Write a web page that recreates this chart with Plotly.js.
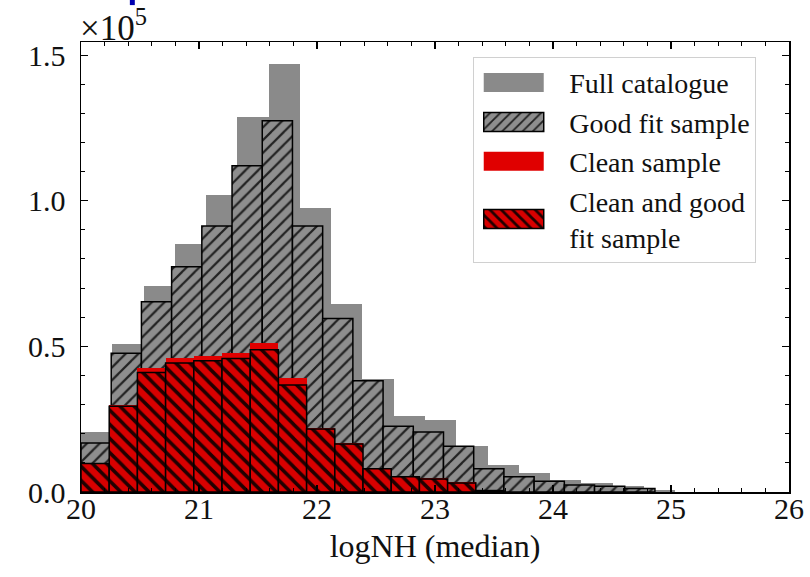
<!DOCTYPE html>
<html><head><meta charset="utf-8">
<script src="https://cdn.plot.ly/plotly-3.0.1.min.js"></script>
<style>html,body{margin:0;padding:0;background:#fff}</style>
</head><body><div id="chart" style="width:810px;height:577px"></div>
<script>
// Histogram data (counts), each series has its own bins starting at logNH = 20
const binStart = 20;
const fullBinWidth = 0.265;
const goodBinWidth = 0.256;
const cleanBinWidth = 0.239;

const fullCatalogue = [20600, 50700, 70600, 85300, 102000, 128800, 146900, 97400, 64700, 38800, 26200, 24800, 15800, 9200, 6500, 4000, 3000, 2200, 700];
const goodFitSample = [16800, 47600, 65300, 77300, 91300, 112000, 127500, 91300, 59600, 38200, 22600, 20600, 15700, 8000, 5200, 3700, 2400, 2000, 1200];
const cleanSample = [10000, 29800, 42700, 46000, 46600, 47800, 51200, 39200, 22000, 16800, 8200, 5400, 4700, 3300, 600];
const cleanGoodSample = [9800, 29400, 41000, 44300, 45100, 45800, 48800, 36700, 21600, 16500, 8000, 5200, 4500, 3100, 500];

const xTickVals = [20, 21, 22, 23, 24, 25, 26];
const yTickVals = [0, 50000, 100000, 150000];
const yTickText = ['0.0', '0.5', '1.0', '1.5'];

function centers(n, w) { return Array.from({length: n}, (_, i) => binStart + (i + 0.5) * w); }

const serif = 'Liberation Serif, Times New Roman, serif';

const traces = [
  {type: 'bar', name: 'Full catalogue', x: centers(fullCatalogue.length, fullBinWidth), y: fullCatalogue,
   width: fullBinWidth, marker: {color: '#8a8a8a', line: {width: 0}}},
  {type: 'bar', name: 'Good fit sample', x: centers(goodFitSample.length, goodBinWidth), y: goodFitSample,
   width: goodBinWidth, marker: {color: '#8e8e8e', line: {color: '#000', width: 1.5},
   pattern: {shape: '/', fgcolor: '#222', bgcolor: '#8e8e8e', size: 9, solidity: 0.25}}},
  {type: 'bar', name: 'Clean sample', x: centers(cleanSample.length, cleanBinWidth), y: cleanSample,
   width: cleanBinWidth, marker: {color: '#e00000', line: {width: 0}}},
  {type: 'bar', name: 'Clean and good<br>fit sample', x: centers(cleanGoodSample.length, cleanBinWidth), y: cleanGoodSample,
   width: cleanBinWidth, marker: {color: '#d80000', line: {color: '#000', width: 1.5},
   pattern: {shape: '\\', fgcolor: '#200000', bgcolor: '#d80000', size: 10, solidity: 0.35}}}
];

const layout = {
  width: 810, height: 577,
  margin: {l: 81, r: 21, t: 42, b: 85, pad: 0},
  paper_bgcolor: '#fff', plot_bgcolor: '#fff',
  barmode: 'overlay', bargap: 0,
  font: {family: serif, color: '#111', size: 30},
  xaxis: {range: [20, 26], tickvals: xTickVals, ticks: 'inside', ticklen: 7, tickwidth: 1.2, tickcolor: '#000',
    showline: true, linecolor: '#000', linewidth: 1.5, mirror: 'allticks', showgrid: false, zeroline: false,
    minor: {dtick: 0.2, tick0: 20, ticks: 'inside', ticklen: 4, tickwidth: 1, tickcolor: '#000', showgrid: false},
    tickfont: {family: serif, size: 30}, ticklabelstandoff: -11,
    title: {text: 'logNH (median)', font: {family: serif, size: 32}, standoff: 11}, automargin: false},
  yaxis: {range: [0, 154500], tickvals: yTickVals, ticktext: yTickText, ticks: 'inside', ticklen: 7, tickwidth: 1.2, tickcolor: '#000',
    showline: true, linecolor: '#000', linewidth: 1.5, mirror: 'allticks', showgrid: false, zeroline: false,
    minor: {dtick: 10000, tick0: 0, ticks: 'inside', ticklen: 4, tickwidth: 1, tickcolor: '#000', showgrid: false},
    tickfont: {family: serif, size: 30}, ticklabelstandoff: 8, automargin: false},
  legend: {x: 0.554, y: 0.967, xanchor: 'left', yanchor: 'top', bgcolor: 'rgba(255,255,255,0.9)',
    bordercolor: '#d0d0d0', borderwidth: 1, font: {family: serif, size: 28, color: '#111'},
    itemwidth: 85, traceorder: 'normal', tracegroupgap: 0, valign: 'middle'},
  annotations: [{xref: 'paper', yref: 'paper', x: 0, y: 1.0, xanchor: 'left', yanchor: 'bottom',
    text: '×10<sup>5</sup>', showarrow: false, font: {family: serif, size: 35, color: '#111'}, xshift: -3, yshift: -8}],
  shapes: [{type: 'rect', xref: 'paper', yref: 'paper', x0: 0.069, x1: 0.076, y0: 1.082, y1: 1.094,
    fillcolor: '#0000b0', line: {width: 0}}],
  showlegend: true
};

function fixLegend(gd) {
  gd.querySelectorAll('.legend .legendpoints path').forEach(p => {
    p.setAttribute('d', 'M22,9.5H-38V-9.5H22Z');
  });
}

Plotly.newPlot('chart', traces, layout, {staticPlot: true, displayModeBar: false}).then(gd => {
  fixLegend(gd);
  gd.on && gd.on('plotly_afterplot', () => fixLegend(gd));
  setTimeout(() => fixLegend(gd), 50);
  setTimeout(() => fixLegend(gd), 300);
});
</script>
</body></html>
